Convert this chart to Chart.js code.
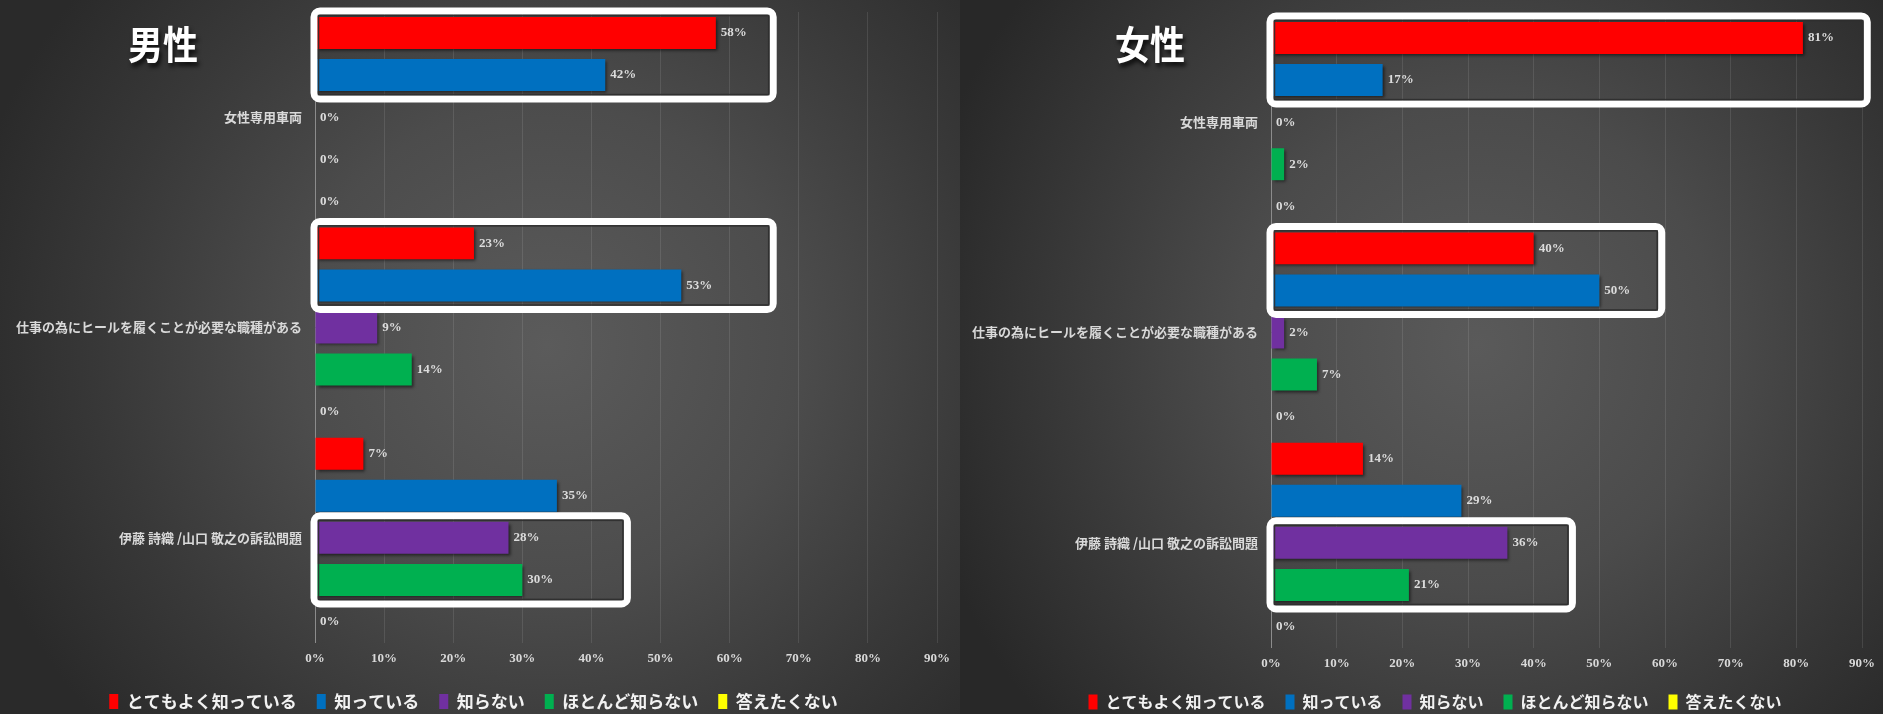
<!DOCTYPE html>
<html lang="ja">
<head>
<meta charset="utf-8">
<title>認知度 男性・女性</title>
<script src="https://cdn.jsdelivr.net/npm/chart.js@4.4.1/dist/chart.umd.min.js"></script>
<style>
  html, body { margin: 0; padding: 0; width: 1883px; height: 714px; overflow: hidden; background: #2c2c2c; }
  .panel { position: absolute; top: 0; height: 720px; }
  #menPanel {
    left: 0; width: 960px;
    background: radial-gradient(ellipse 62% 80% at 57% 48%, #5b5b5b 0%, #4c4c4c 42%, #383838 75%, #2a2a2a 100%);
  }
  #womenPanel {
    left: 960px; width: 923px;
    background: radial-gradient(ellipse 62% 80% at 56% 48%, #5a5a5a 0%, #4b4b4b 42%, #373737 75%, #282828 100%);
  }
  .panel canvas { position: absolute; left: 0; top: 0; }
  .panel-title {
    position: absolute; top: 42px; z-index: 2;
    font-family: "Noto Sans CJK JP", sans-serif; font-weight: 700; font-size: 35px;
    color: #ffffff; white-space: nowrap;
    text-shadow: 2px 3px 4px rgba(0, 0, 0, 0.75);
    transform: translate(-50%, -50%) scaleY(1.12);
  }
</style>
</head>
<body>
<div class="panel" id="menPanel">
  <div class="panel-title" style="left: 163px;">男性</div>
  <canvas id="menChart" width="960" height="720"></canvas>
</div>
<div class="panel" id="womenPanel">
  <div class="panel-title" style="left: 190px;">女性</div>
  <canvas id="womenChart" width="923" height="720"></canvas>
</div>
<script>
const categories = ['女性専用車両', '仕事の為にヒールを履くことが必要な職種がある', '伊藤 詩織 /山口 敬之の訴訟問題'];
const answerLabels = ['とてもよく知っている', '知っている', '知らない', 'ほとんど知らない', '答えたくない'];
const percentTicks = [0, 10, 20, 30, 40, 50, 60, 70, 80, 90];

// 男性
const menVeryWell = [58, 23, 7];
const menKnow = [42, 53, 35];
const menDontKnow = [0, 9, 28];
const menHardly = [0, 14, 30];
const menNoAnswer = [0, 0, 0];

// 女性
const womenVeryWell = [81, 40, 14];
const womenKnow = [17, 50, 29];
const womenDontKnow = [0, 2, 36];
const womenHardly = [2, 7, 21];
const womenNoAnswer = [0, 0, 0];

// [category, first series, last series, right edge in %]
const menHighlights = [[0, 0, 1, 66.3], [1, 0, 1, 66.3], [2, 2, 3, 45.2]];
const womenHighlights = [[0, 0, 1, 90.8], [1, 0, 1, 59.5], [2, 2, 3, 45.9]];

const answerColors = ['#ff0000', '#0070c0', '#7030a0', '#00b050', '#ffff00'];

// soft drop shadow under the bars
const barShadow = {
  id: 'barShadow',
  beforeDatasetsDraw(chart) {
    const ctx = chart.ctx;
    ctx.save();
    ctx.shadowColor = 'rgba(0, 0, 0, 0.55)';
    ctx.shadowOffsetX = 2;
    ctx.shadowOffsetY = 2;
    ctx.shadowBlur = 3;
  },
  afterDatasetsDraw(chart) {
    chart.ctx.restore();
  }
};

// "58%" style labels at the end of each bar
const valueLabels = {
  id: 'valueLabels',
  afterDatasetsDraw(chart) {
    const ctx = chart.ctx;
    ctx.save();
    ctx.font = 'bold 13px "Liberation Serif", "Times New Roman", serif';
    ctx.fillStyle = '#dcdcdc';
    ctx.textAlign = 'left';
    ctx.textBaseline = 'middle';
    chart.data.datasets.forEach((ds, i) => {
      chart.getDatasetMeta(i).data.forEach((bar, j) => {
        ctx.fillText(ds.data[j] + '%', bar.x + 5, bar.y);
      });
    });
    ctx.restore();
  }
};

// white rounded frames around the answers worth pointing at
const highlightBoxes = {
  id: 'highlightBoxes',
  afterDraw(chart, args, opts) {
    const ctx = chart.ctx;
    const xScale = chart.scales.x;
    opts.boxes.forEach(([cat, first, last, extent]) => {
      const topBar = chart.getDatasetMeta(first).data[cat];
      const bottomBar = chart.getDatasetMeta(last).data[cat];
      const left = xScale.getPixelForValue(0) - 1;
      const right = xScale.getPixelForValue(extent);
      const top = topBar.y - topBar.height / 2 - 6;
      const bottom = bottomBar.y + bottomBar.height / 2 + 8;
      ctx.save();
      ctx.strokeStyle = '#ffffff';
      ctx.lineWidth = 7;
      ctx.beginPath();
      ctx.roundRect(left, top, right - left, bottom - top, 6);
      ctx.stroke();
      ctx.strokeStyle = 'rgba(45, 45, 45, 0.9)';
      ctx.lineWidth = 1.5;
      ctx.strokeRect(left + 4.5, top + 4.5, right - left - 9, bottom - top - 9);
      ctx.restore();
    });
  }
};

// nudge the legend sideways so it sits under the middle of the panel
const legendShift = {
  id: 'legendShift',
  afterLayout(chart, args, opts) {
    chart.legend.left += opts.dx;
    chart.legend.right += opts.dx;
  }
};

function buildChart(canvasId, series, highlights, layout) {
  return new Chart(document.getElementById(canvasId), {
    type: 'bar',
    data: {
      labels: categories,
      datasets: series.map((values, i) => ({
        label: answerLabels[i],
        data: values,
        backgroundColor: answerColors[i],
        borderWidth: 0,
        categoryPercentage: 1,
        barPercentage: 0.76
      }))
    },
    options: {
      indexAxis: 'y',
      responsive: false,
      animation: false,
      layout: { padding: layout.padding },
      scales: {
        x: {
          min: 0,
          max: 90,
          afterBuildTicks: scale => { scale.ticks = percentTicks.map(v => ({ value: v })); },
          afterFit: scale => { scale.height = layout.xAxisHeight; },
          grid: {
            color: ctx => (ctx.tick && ctx.tick.value === 0) ? '#8c8c8c' : 'rgba(255, 255, 255, 0.1)',
            drawTicks: false
          },
          border: { display: false },
          ticks: {
            padding: 8,
            color: '#d9d9d9',
            font: { family: '"Liberation Serif", "Times New Roman", serif', weight: 'bold', size: 13 },
            callback: v => v + '%'
          }
        },
        y: {
          afterFit: scale => {
            scale.width = layout.yAxisWidth;
            scale.paddingTop = 0;
            scale.paddingBottom = 0;
          },
          grid: { display: false, drawTicks: false },
          border: { display: false },
          ticks: {
            padding: 13,
            color: '#d9d9d9',
            font: { family: '"Noto Sans CJK JP", sans-serif', weight: 'bold', size: 13 }
          }
        }
      },
      plugins: {
        legend: {
          position: 'bottom',
          labels: {
            color: '#f2f2f2',
            boxWidth: 9,
            boxHeight: 15,
            padding: 20,
            font: { family: '"Noto Sans CJK JP", sans-serif', weight: 'bold', size: layout.legendSize }
          }
        },
        tooltip: { enabled: false },
        highlightBoxes: { boxes: highlights },
        legendShift: { dx: layout.legendDx }
      }
    },
    plugins: [barShadow, valueLabels, highlightBoxes, legendShift]
  });
}

buildChart('menChart',
  [menVeryWell, menKnow, menDontKnow, menHardly, menNoAnswer],
  menHighlights,
  { padding: { left: 0, right: 23, top: 12, bottom: 0 }, yAxisWidth: 315, xAxisHeight: 30, legendSize: 17, legendDx: 5 });

buildChart('womenChart',
  [womenVeryWell, womenKnow, womenDontKnow, womenHardly, womenNoAnswer],
  womenHighlights,
  { padding: { left: 0, right: 15, top: 17, bottom: 0 }, yAxisWidth: 311, xAxisHeight: 26, legendSize: 16, legendDx: 21 });
</script>
</body>
</html>
